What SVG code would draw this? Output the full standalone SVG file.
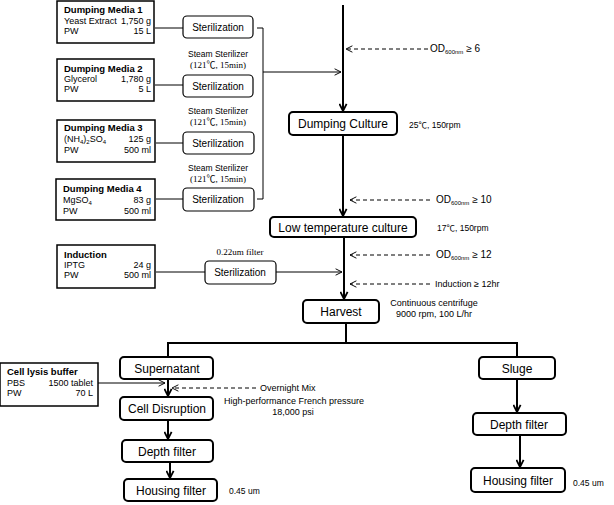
<svg xmlns="http://www.w3.org/2000/svg" width="614" height="505" viewBox="0 0 614 505">
<style>
text{font-family:"Liberation Sans",Arial,"Noto Sans CJK KR",sans-serif;fill:#000}
.mb{fill:#fff;stroke:#000;stroke-width:1.5}
.st{fill:#fff;stroke:#000;stroke-width:1.2}
.pb{fill:#fff;stroke:#000;stroke-width:2}
.t9{font-size:9px}
.tb{font-size:9.5px;font-weight:bold}
.ts{font-size:10px}
.tm{font-size:12px}
.sm{font-size:8.5px}
.ser{font-family:"Liberation Serif","Times New Roman","Noto Sans CJK KR",serif;font-size:9px}
.r{text-anchor:end}
.c{text-anchor:middle}
.main{stroke:#000;stroke-width:2;fill:none}
.thin{stroke:#000;stroke-width:1;fill:none}
.dash{stroke:#000;stroke-width:1;fill:none;stroke-dasharray:4,3}
</style>
<defs>
<marker id="big" viewBox="0 0 10 10" refX="9" refY="5" markerWidth="9" markerHeight="9" markerUnits="userSpaceOnUse" orient="auto"><path d="M1,1 L9,5 L1,9" fill="none" stroke="#000" stroke-width="2"/></marker>
<marker id="open" viewBox="0 0 10 10" refX="9" refY="5" markerWidth="8" markerHeight="8" markerUnits="userSpaceOnUse" orient="auto"><path d="M1,1 L9,5 L1,9" fill="none" stroke="#000" stroke-width="1.2"/></marker>
</defs>

<g id="connectors">
<line class="thin" x1="155" y1="28" x2="183" y2="28"/>
<line class="thin" x1="155" y1="85" x2="183" y2="85"/>
<line class="thin" x1="156" y1="143" x2="183" y2="143"/>
<line class="thin" x1="156" y1="199" x2="183" y2="199"/>
<polyline class="thin" points="257,28 263,28 263,199 257,199"/>
<line class="thin" x1="263" y1="72" x2="341" y2="72" marker-end="url(#open)"/>
<line class="main" x1="343" y1="5" x2="343" y2="111" marker-end="url(#big)"/>
<line class="dash" x1="428" y1="49" x2="346" y2="49" marker-end="url(#open)"/>
<line class="main" x1="343" y1="135" x2="343" y2="216" marker-end="url(#big)"/>
<line class="dash" x1="430" y1="200" x2="350" y2="200" marker-end="url(#open)"/>
<line class="main" x1="344" y1="237" x2="344" y2="299" marker-end="url(#big)"/>
<line class="thin" x1="156" y1="272" x2="205" y2="272"/>
<line class="thin" x1="276" y1="272" x2="342" y2="272" marker-end="url(#open)"/>
<line class="dash" x1="430" y1="255" x2="350" y2="255" marker-end="url(#open)"/>
<line class="dash" x1="430" y1="284" x2="350" y2="284" marker-end="url(#open)"/>
<polyline class="main" points="346,323 346,343 168,343 168,357"/>
<polyline class="main" points="346,343 517,343 517,357"/>
<line class="main" x1="168" y1="379" x2="168" y2="396" marker-end="url(#big)"/>
<line class="thin" x1="98" y1="383" x2="165" y2="383" marker-end="url(#open)"/>
<line class="dash" x1="256" y1="388" x2="172" y2="388" marker-end="url(#open)"/>
<line class="main" x1="168" y1="420" x2="168" y2="439" marker-end="url(#big)"/>
<line class="main" x1="170" y1="462" x2="170" y2="478" marker-end="url(#big)"/>
<line class="main" x1="517" y1="379" x2="517" y2="412" marker-end="url(#big)"/>
<line class="main" x1="520" y1="435" x2="520" y2="467" marker-end="url(#big)"/>
</g>

<g id="media1">
<rect class="mb" x="57" y="1" width="97" height="42"/>
<text class="tb" x="64" y="13">Dumping Media 1</text>
<text class="t9" x="64" y="24">Yeast Extract</text><text class="t9 r" x="151" y="24">1,750 g</text>
<text class="t9" x="64" y="34">PW</text><text class="t9 r" x="151" y="34">15 L</text>
</g>
<g id="media2">
<rect class="mb" x="57" y="59" width="97" height="42"/>
<text class="tb" x="64" y="72">Dumping Media 2</text>
<text class="t9" x="64" y="82">Glycerol</text><text class="t9 r" x="151" y="82">1,780 g</text>
<text class="t9" x="64" y="92">PW</text><text class="t9 r" x="151" y="92">5 L</text>
</g>
<g id="media3">
<rect class="mb" x="57" y="120" width="98" height="42"/>
<text class="tb" x="64" y="131">Dumping Media 3</text>
<text class="t9" x="64" y="142">(NH<tspan font-size="6" dy="2">4</tspan><tspan dy="-2">)</tspan><tspan font-size="6" dy="2">2</tspan><tspan dy="-2">SO</tspan><tspan font-size="6" dy="2">4</tspan></text><text class="t9 r" x="151" y="142">125 g</text>
<text class="t9" x="64" y="153">PW</text><text class="t9 r" x="151" y="153">500 ml</text>
</g>
<g id="media4">
<rect class="mb" x="56" y="179" width="99" height="41"/>
<text class="tb" x="63" y="192">Dumping Media 4</text>
<text class="t9" x="63" y="203">MgSO<tspan font-size="6" dy="2">4</tspan></text><text class="t9 r" x="151" y="203">83 g</text>
<text class="t9" x="63" y="214">PW</text><text class="t9 r" x="151" y="214">500 ml</text>
</g>

<g id="steril1">
<rect class="st" x="183" y="16" width="70" height="22" rx="4"/>
<text class="ts c" x="218" y="31">Sterilization</text>
</g>
<g id="steril2">
<rect class="st" x="183" y="75" width="70" height="22" rx="4"/>
<text class="ts c" x="218" y="90">Sterilization</text>
<text class="sm c" x="218" y="57">Steam Sterilizer</text>
<text class="ser c" x="218" y="68">(121℃, 15min)</text>
</g>
<g id="steril3">
<rect class="st" x="183" y="132" width="71" height="22" rx="4"/>
<text class="ts c" x="218" y="147">Sterilization</text>
<text class="sm c" x="218" y="114">Steam Sterilizer</text>
<text class="ser c" x="218" y="125">(121℃, 15min)</text>
</g>
<g id="steril4">
<rect class="st" x="183" y="188" width="71" height="23" rx="4"/>
<text class="ts c" x="218" y="203">Sterilization</text>
<text class="sm c" x="218" y="171">Steam Sterilizer</text>
<text class="ser c" x="218" y="182">(121℃, 15min)</text>
</g>

<g id="od6"><text class="ts" x="430" y="52">OD<tspan font-size="6" dy="2">600nm</tspan><tspan dy="-2"> ≥ 6</tspan></text></g>

<g id="dumping">
<rect class="pb" x="289" y="112" width="108" height="23" rx="4"/>
<text class="tm c" x="343" y="128">Dumping Culture</text>
<text class="sm" x="409" y="128">25℃, 150rpm</text>
</g>

<g id="od10"><text class="ts" x="436" y="203">OD<tspan font-size="6" dy="2">600nm</tspan><tspan dy="-2"> ≥ 10</tspan></text></g>

<g id="lowtemp">
<rect class="pb" x="270" y="217" width="146" height="20" rx="4"/>
<text class="tm c" x="343" y="232">Low temperature culture</text>
<text class="sm" x="437" y="231">17℃, 150rpm</text>
</g>

<g id="induction">
<rect class="mb" x="57" y="245" width="98" height="43"/>
<text class="tb" x="64" y="258">Induction</text>
<text class="t9" x="64" y="268">IPTG</text><text class="t9 r" x="151" y="268">24 g</text>
<text class="t9" x="64" y="278">PW</text><text class="t9 r" x="151" y="278">500 ml</text>
</g>
<g id="steril5">
<rect class="st" x="205" y="261" width="71" height="23" rx="4"/>
<text class="ts c" x="240" y="276">Sterilization</text>
<text class="ser c" x="240" y="255">0.22um filter</text>
</g>

<g id="od12"><text class="ts" x="436" y="258">OD<tspan font-size="6" dy="2">600nm</tspan><tspan dy="-2"> ≥ 12</tspan></text></g>
<g id="ind12"><text class="t9" x="435" y="287">Induction ≥ 12hr</text></g>

<g id="harvest">
<rect class="pb" x="303" y="300" width="76" height="23" rx="4"/>
<text class="tm c" x="341" y="316">Harvest</text>
<text class="t9 c" x="434" y="306">Continuous centrifuge</text>
<text class="t9 c" x="434" y="317">9000 rpm, 100 L/hr</text>
</g>

<g id="supernatant">
<rect class="pb" x="120" y="357" width="93" height="22" rx="4"/>
<text class="tm c" x="167" y="373">Supernatant</text>
</g>
<g id="lysis">
<rect class="mb" x="0" y="363" width="98" height="43"/>
<text class="tb" x="7" y="375">Cell lysis buffer</text>
<text class="t9" x="7" y="386">PBS</text><text class="t9 r" x="93" y="386">1500 tablet</text>
<text class="t9" x="7" y="396">PW</text><text class="t9 r" x="93" y="396">70 L</text>
</g>
<g id="overnight"><text class="t9" x="260" y="391">Overnight Mix</text></g>
<g id="disruption">
<rect class="pb" x="120" y="397" width="93" height="23" rx="4"/>
<text class="tm c" x="167" y="413">Cell Disruption</text>
<text class="t9" x="224" y="404">High-performance French pressure</text>
<text class="t9 c" x="293" y="415">18,000 psi</text>
</g>
<g id="depth1">
<rect class="pb" x="122" y="440" width="91" height="22" rx="4"/>
<text class="tm c" x="167" y="456">Depth filter</text>
</g>
<g id="housing1">
<rect class="pb" x="124" y="479" width="93" height="22" rx="4"/>
<text class="tm c" x="171" y="495">Housing filter</text>
<text class="sm" x="229" y="494">0.45 um</text>
</g>

<g id="sluge">
<rect class="pb" x="479" y="357" width="76" height="22" rx="4"/>
<text class="tm c" x="517" y="373">Sluge</text>
</g>
<g id="depth2">
<rect class="pb" x="473" y="413" width="93" height="22" rx="4"/>
<text class="tm c" x="519" y="429">Depth filter</text>
</g>
<g id="housing2">
<rect class="pb" x="471" y="468" width="94" height="24" rx="4"/>
<text class="tm c" x="518" y="485">Housing filter</text>
<text class="sm" x="573" y="486">0.45 um</text>
</g>
</svg>
